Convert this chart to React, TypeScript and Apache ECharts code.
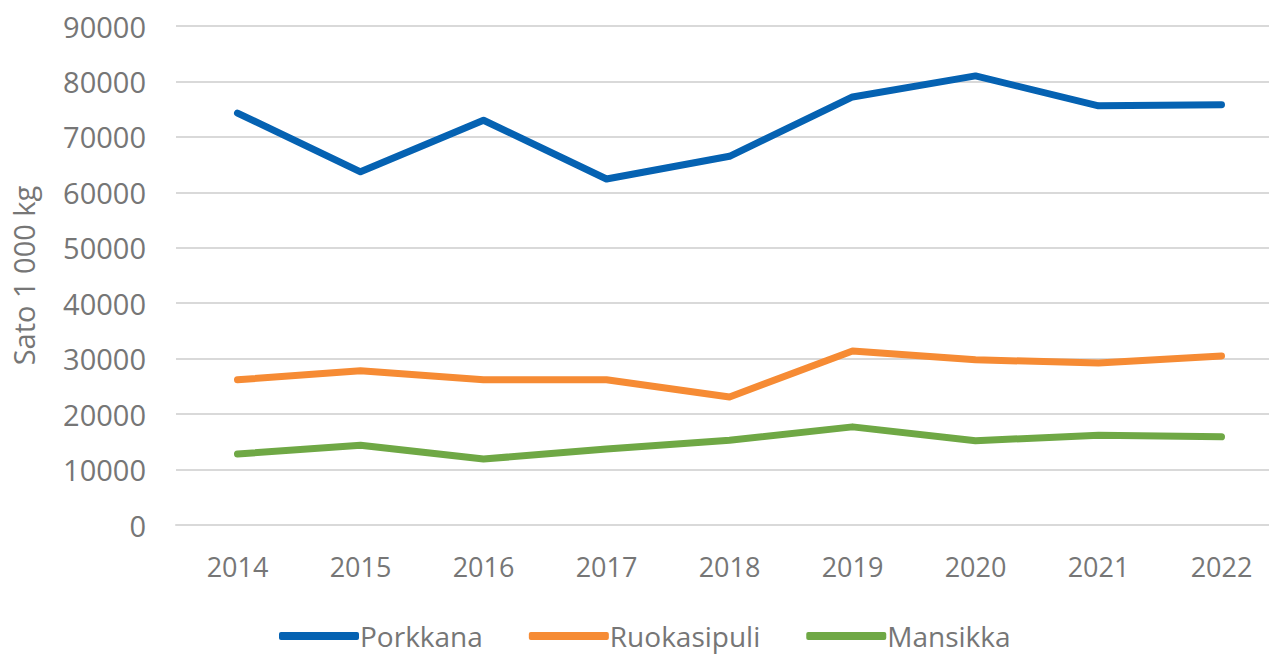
import React, { useEffect, useRef } from "react";
import * as echarts from "echarts";

const years = ["2014", "2015", "2016", "2017", "2018", "2019", "2020", "2021", "2022"];
const porkkana = [74300, 63700, 73000, 62400, 66500, 77200, 81000, 75600, 75800];
const ruokasipuli = [26200, 27800, 26200, 26200, 23100, 31400, 29800, 29200, 30500];
const mansikka = [12800, 14400, 11900, 13700, 15300, 17700, 15200, 16200, 15900];

const FONT = "'Open Sans', 'Noto Sans', sans-serif";
const GRAY = "#767676";

export default function App() {
  const ref = useRef<HTMLDivElement>(null);
  useEffect(() => {
    if (!ref.current) return;
    const chart = echarts.init(ref.current, undefined, { renderer: "svg" });
    const mk = (name: string, data: number[], color: string) => ({
      name,
      type: "line",
      data,
      symbol: "none",
      lineStyle: { width: 7, color, cap: "round", join: "round" },
      itemStyle: { color },
    });
    chart.setOption({
      animation: false,
      textStyle: { fontFamily: FONT },
      grid: { left: 176, top: 26, width: 1107, height: 499, containLabel: false },
      legend: {
        bottom: 2,
        left: 274,
        itemWidth: 80,
        itemHeight: 8,
        itemGap: 46,
        icon: "roundRect",
        textStyle: { fontSize: 28, color: GRAY, fontFamily: FONT, padding: [0, 0, 0, -4] },
        data: ["Porkkana", "Ruokasipuli", "Mansikka"],
      },
      xAxis: {
        type: "category",
        data: years,
        boundaryGap: true,
        axisLine: { show: true, lineStyle: { color: "#d9d9d9", width: 2 } },
        axisTick: { show: false },
        axisLabel: { fontSize: 27, color: GRAY, margin: 28, fontFamily: FONT },
      },
      yAxis: {
        type: "value",
        min: 0,
        max: 90000,
        interval: 10000,
        name: "Sato 1 000 kg",
        nameLocation: "middle",
        nameGap: 138,
        nameTextStyle: { fontSize: 29, color: GRAY, fontFamily: FONT },
        axisLine: { show: false },
        axisTick: { show: false },
        splitLine: { lineStyle: { color: "#d9d9d9", width: 2 } },
        axisLabel: {
          fontSize: 29,
          color: GRAY,
          margin: 30,
          fontFamily: FONT,
          formatter: (v: number) => String(v),
        },
      },
      series: [
        mk("Porkkana", porkkana, "#0562b2"),
        mk("Ruokasipuli", ruokasipuli, "#f68b34"),
        mk("Mansikka", mansikka, "#6fa845"),
      ],
    });
    return () => chart.dispose();
  }, []);
  return (
    <div
      style={{ position: "fixed", left: 0, top: 0, width: 1269, height: 657, overflow: "hidden", background: "#fff" }}
    >
      <div ref={ref} style={{ width: 1290, height: 657 }} />
    </div>
  );
}
